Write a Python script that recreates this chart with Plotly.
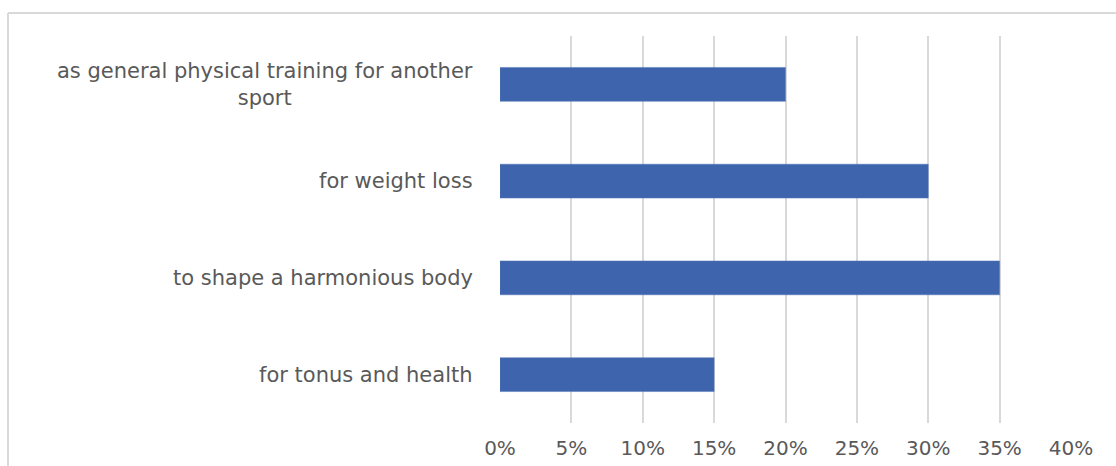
import plotly.graph_objects as go

# Reasons for training (bottom to top as drawn)
categories = [
    "for tonus and health",
    "to shape a harmonious body",
    "for weight loss",
    "as general physical training for another<br>sport",
]
shares = [0.15, 0.35, 0.30, 0.20]
tick_values = [0, 0.05, 0.10, 0.15, 0.20, 0.25, 0.30, 0.35, 0.40]
tick_labels = ["0%", "5%", "10%", "15%", "20%", "25%", "30%", "35%", "40%"]

W, H = 1116, 466
L, R, T, B = 500, 45, 36, 43
plot_w = W - L - R
plot_h = H - T - B

FONT = "DejaVu Sans"
TEXT = "#595959"

fig = go.Figure(
    go.Bar(
        x=shares,
        y=categories,
        orientation="h",
        marker=dict(color="#3D64AC", line=dict(color="#5577B8", width=0.5)),
        hoverinfo="skip",
    )
)

# category labels, wrapped lines centred within a right-aligned block
annotations = [
    dict(
        x=-25 / plot_w,
        xref="paper",
        y=c,
        yref="y",
        text=c,
        showarrow=False,
        xanchor="right",
        yanchor="middle",
        align="center",
        font=dict(family=FONT, size=21, color=TEXT),
    )
    for c in categories
]

# outer chart frame (top and left edges)
frame = "#D9D9D9"
shapes = [
    dict(type="line", xref="paper", yref="paper",
         x0=(8 - L) / plot_w, x1=(W + 10 - L) / plot_w,
         y0=(H - B - 13) / plot_h, y1=(H - B - 13) / plot_h,
         line=dict(color=frame, width=2)),
    dict(type="line", xref="paper", yref="paper",
         x0=(8 - L) / plot_w, x1=(8 - L) / plot_w,
         y0=(H - B - 13) / plot_h, y1=-(B + 10) / plot_h,
         line=dict(color=frame, width=2)),
]

fig.update_layout(
    width=W,
    height=H,
    margin=dict(l=L, r=R, t=T, b=B, pad=0, autoexpand=False),
    paper_bgcolor="white",
    plot_bgcolor="white",
    bargap=0.65,
    showlegend=False,
    annotations=annotations,
    shapes=shapes,
    xaxis=dict(
        range=[0, 0.4],
        tickvals=tick_values,
        ticktext=tick_labels,
        showgrid=True,
        gridcolor="#D9D9D9",
        gridwidth=2,
        zeroline=False,
        showline=False,
        ticks="",
        automargin=False,
        ticklabelstandoff=11,
        tickfont=dict(family=FONT, size=20, color=TEXT),
        fixedrange=True,
    ),
    yaxis=dict(
        categoryorder="array",
        categoryarray=categories,
        showticklabels=False,
        showgrid=False,
        zeroline=False,
        showline=False,
        ticks="",
        automargin=False,
        fixedrange=True,
    ),
)

fig.write_html("out.html", config={"displayModeBar": False})
